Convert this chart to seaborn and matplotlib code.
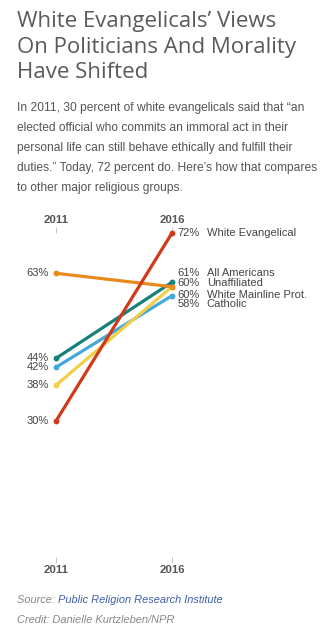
import matplotlib
matplotlib.use("Agg")
import matplotlib.pyplot as plt
import seaborn as sns
import pandas as pd

# ---- data ----
groups = ["White Evangelical", "All Americans", "Unaffiliated", "White Mainline Prot.", "Catholic"]
years = [2011, 2016]
values_2011 = [30, 44, 63, 38, 42]
values_2016 = [72, 61, 60, 60, 58]
colors = ["#d2391c", "#16807a", "#ea8a1c", "#f1cf46", "#44a9d8"]

# label layout (vertical offsets in px for right labels, to avoid overlap)
right_label_offset_px = [0, 9, 4, -8, -8]
draw_order = ["All Americans", "Catholic", "White Mainline Prot.", "Unaffiliated", "White Evangelical"]

rows = []
for g, a, b in zip(groups, values_2011, values_2016):
    rows.append({"group": g, "year": years[0], "value": a})
    rows.append({"group": g, "year": years[1], "value": b})
df = pd.DataFrame(rows)

sns.set_theme(style="white")
plt.rcParams["font.family"] = ["Liberation Sans", "DejaVu Sans"]

W, H = 326, 637
fig = plt.figure(figsize=(W / 100, H / 100), dpi=100)
fig.patch.set_facecolor("white")

y_top_px, px_per_pt = 233, 188 / 42
y_bot_px = 557
ymin = 72 - (y_bot_px - y_top_px) / px_per_pt
ax = fig.add_axes([56 / W, (H - y_bot_px) / H, 116 / W, (y_bot_px - y_top_px) / H])

palette = dict(zip(groups, colors))
for g in draw_order:
    sub = df[df.group == g]
    sns.lineplot(data=sub, x="year", y="value", color=palette[g], linewidth=2.3,
                 marker="o", markersize=4.2, markeredgewidth=0, ax=ax,
                 clip_on=False, legend=False, zorder=3)

ax.set_xlim(2011, 2016)
ax.set_ylim(ymin, 72)
ax.set_xlabel("")
ax.set_ylabel("")
ax.set_yticks([])
ax.set_xticks(years)
ax.set_xticklabels([str(y) for y in years])
for s in ax.spines.values():
    s.set_visible(False)
ax.tick_params(axis="x", top=True, labeltop=True, bottom=True, labelbottom=True,
               direction="out", length=4, width=0.6, color="#bbbbbb",
               labelsize=8.2, labelcolor="#555555", pad=1.5)
for t in ax.xaxis.get_major_ticks():
    t.label1.set_fontweight("bold")
    t.label2.set_fontweight("bold")
ax.patch.set_alpha(0)

lab_color = "#444444"
fs = 8.0
for g, v in zip(groups, values_2011):
    ax.annotate(f"{v}%", xy=(2011, v), xytext=(-5, 0), textcoords="offset points",
                ha="right", va="center", fontsize=fs, color=lab_color, annotation_clip=False)
for g, v, off in zip(groups, values_2016, right_label_offset_px):
    ax.annotate(f"{v}%", xy=(2016, v), xytext=(4.2, off * 0.72), textcoords="offset points",
                ha="left", va="center", fontsize=fs, color=lab_color, annotation_clip=False)
    ax.annotate(g, xy=(2016, v), xytext=(25, off * 0.72), textcoords="offset points",
                ha="left", va="center", fontsize=fs, color=lab_color, annotation_clip=False)

title_lines = ["White Evangelicals\u2019 Views", "On Politicians And Morality", "Have Shifted"]
for i, line in enumerate(title_lines):
    fig.text(17 / W, 1 - (21 + 26 * i) / H, line, ha="left", va="center",
             fontsize=16.0, color="#5a5a5a", family=["Open Sans", "DejaVu Sans"])

sub_lines = [
    "In 2011, 30 percent of white evangelicals said that \u201can",
    "elected official who commits an immoral act in their",
    "personal life can still behave ethically and fulfill their",
    "duties.\u201d Today, 72 percent do. Here\u2019s how that compares",
    "to other major religious groups.",
]
for i, line in enumerate(sub_lines):
    fig.text(17 / W, 1 - (108 + 20 * i) / H, line, ha="left", va="center",
             fontsize=8.65, color="#555555")

t1 = fig.text(17 / W, 1 - 600 / H, "Source: ", ha="left", va="center", fontsize=7.9,
              color="#888888", style="italic")
fig.canvas.draw()
bb = t1.get_window_extent()
fig.text(bb.x1 / W, 1 - 600 / H, "Public Religion Research Institute", ha="left", va="center",
         fontsize=7.9, color="#3d5ea6", style="italic")
fig.text(17 / W, 1 - 620 / H, "Credit: Danielle Kurtzleben/NPR", ha="left", va="center",
         fontsize=7.9, color="#888888", style="italic")

fig.savefig("out.png", dpi=100, facecolor="white")
